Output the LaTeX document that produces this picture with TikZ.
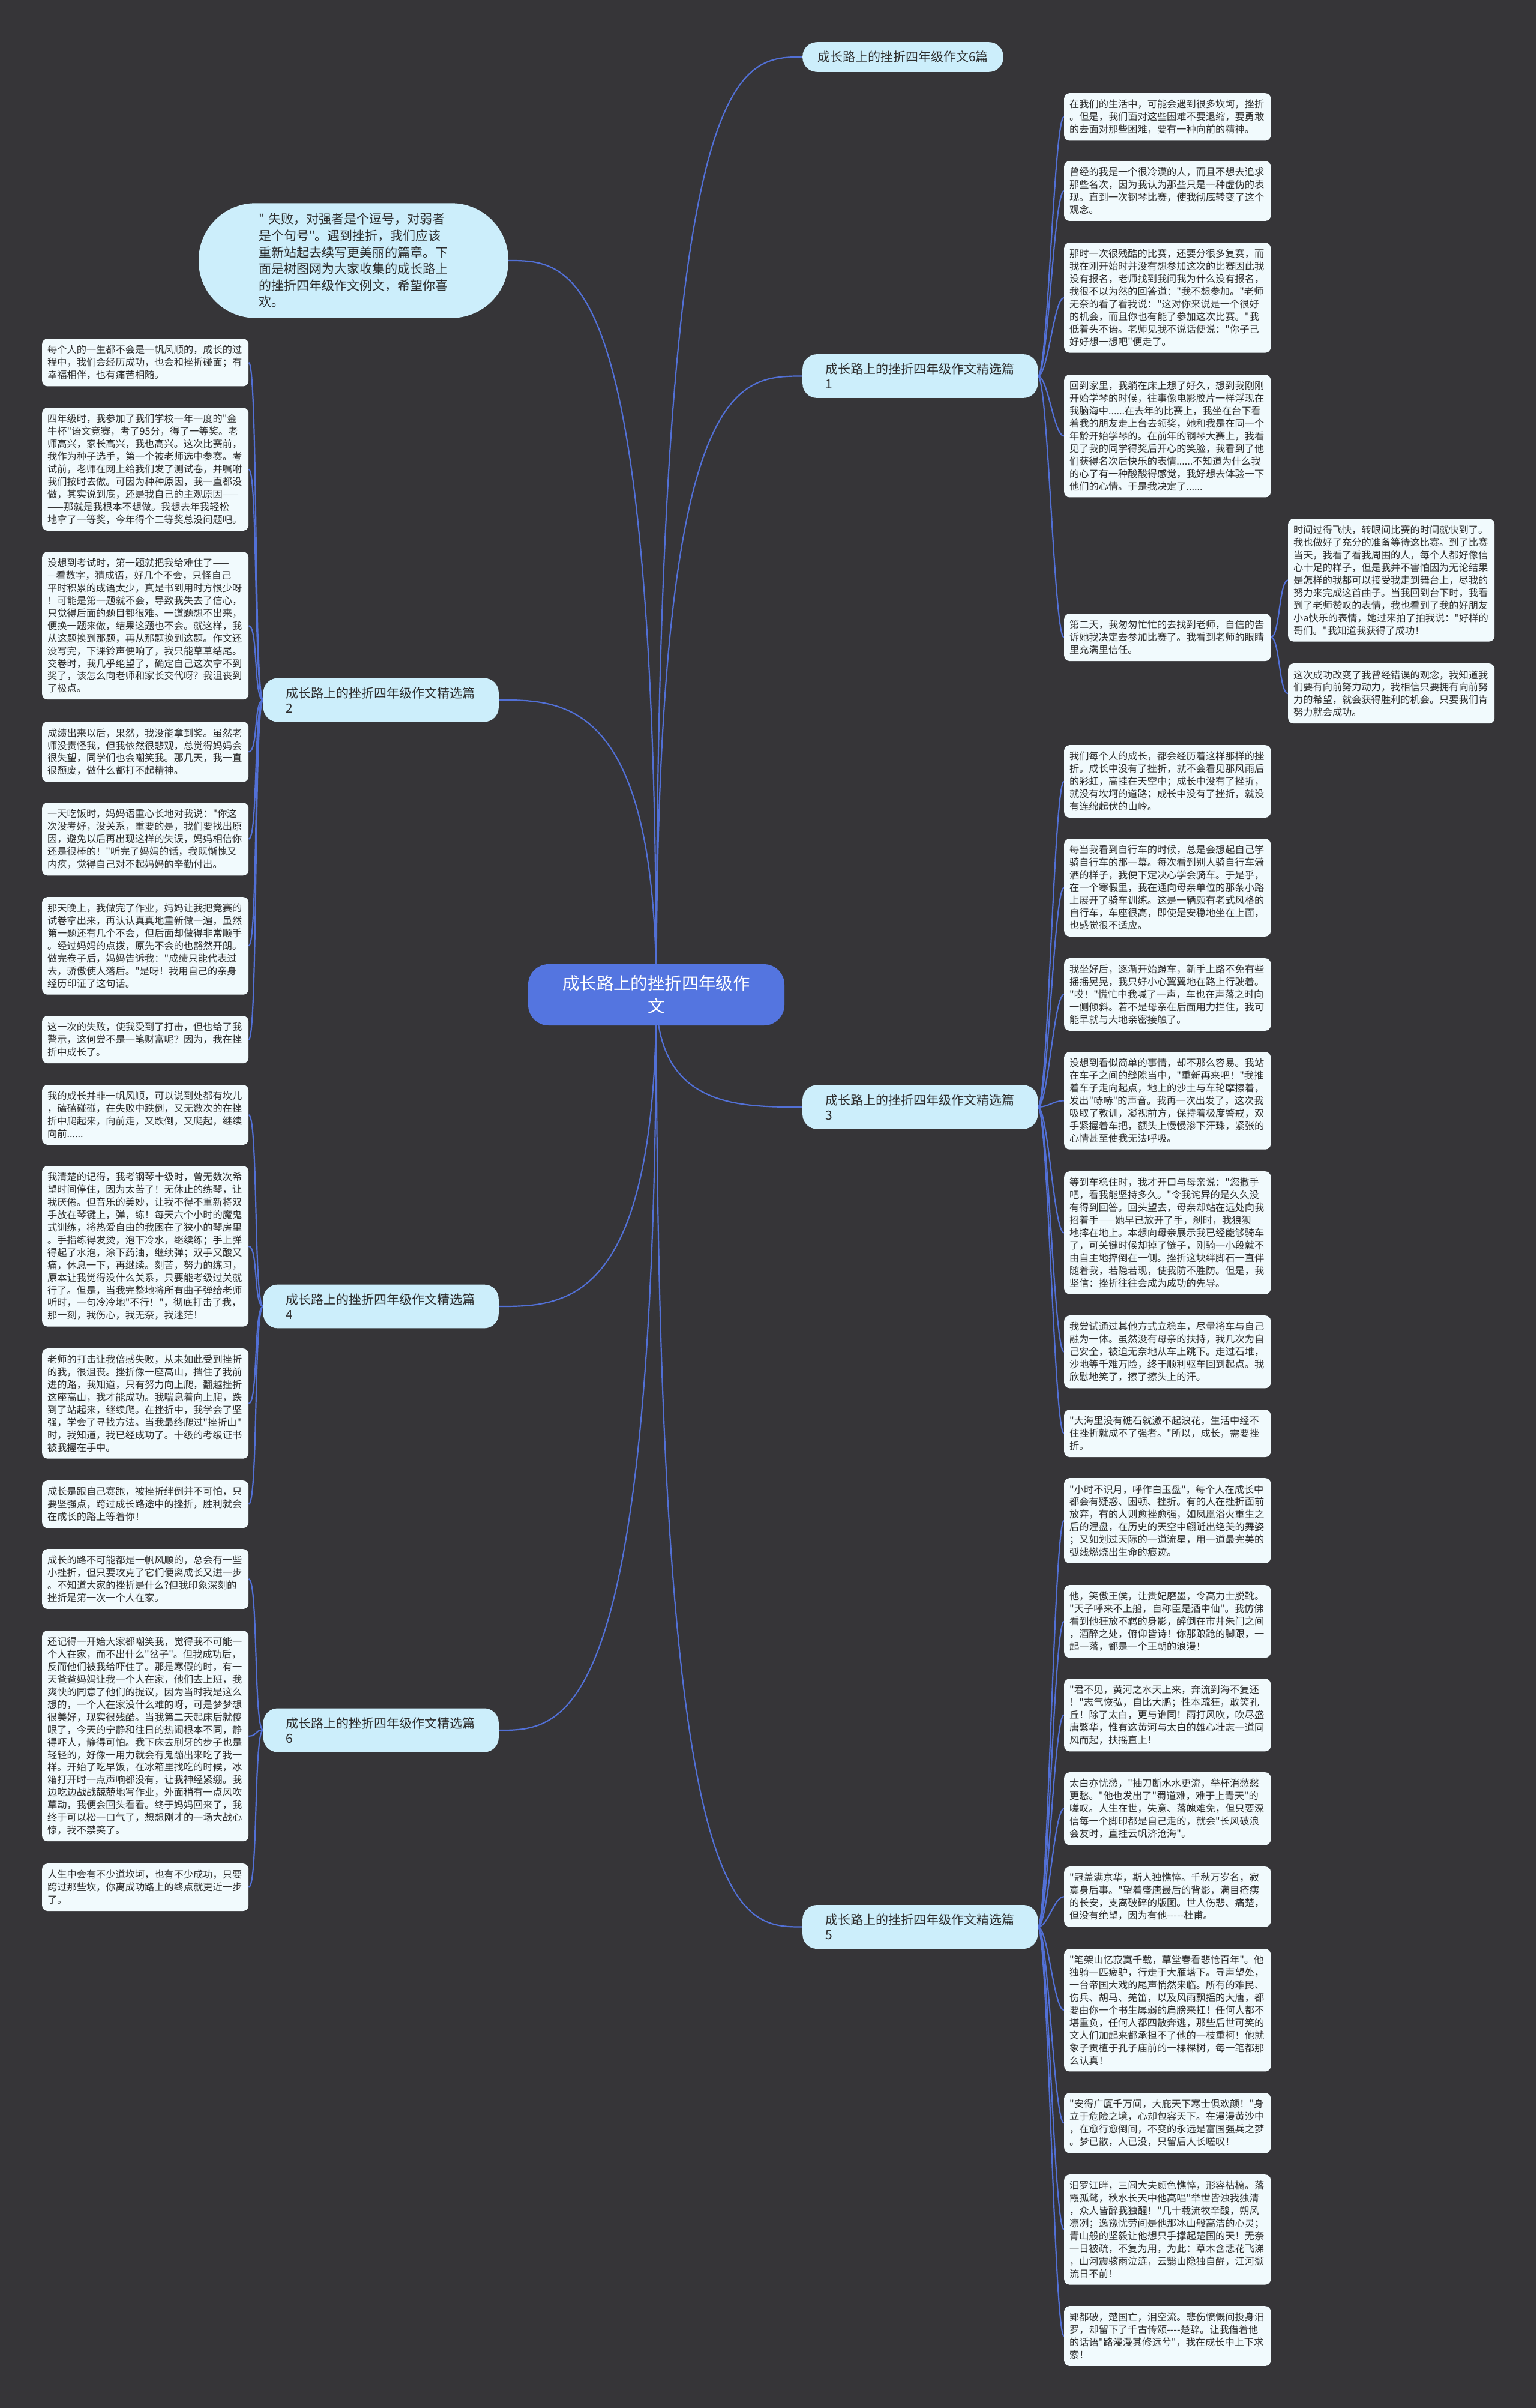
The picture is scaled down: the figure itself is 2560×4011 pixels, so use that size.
\documentclass[tikz,border=0pt]{standalone}
\usepackage{fontspec}
\newfontfamily\cjkfont{Noto Sans CJK SC}
\usetikzlibrary{calc}

\definecolor{pagebg}{RGB}{54,53,56}
\definecolor{linkblue}{RGB}{82,112,214}
\definecolor{rootbg}{RGB}{84,117,224}
\definecolor{branchbg}{RGB}{204,238,251}
\definecolor{leafbg}{RGB}{241,250,253}
\definecolor{leafink}{RGB}{45,45,45}

\pgfdeclarelayer{back}
\pgfdeclarelayer{lines}
\pgfsetlayers{back,lines,main}

\tikzset{
  root/.style={fill=rootbg, text=white, rounded corners=34pt, align=center,
    text width=320pt, minimum width=427pt, minimum height=102pt,
    font={\cjkfont\fontsize{28.4}{38}\selectfont}},
  intro/.style={fill=branchbg, text=leafink, rounded corners=95pt, align=left,
    text width=316pt, inner xsep=100pt, inner ysep=17pt,
    font={\cjkfont\fontsize{21}{27.6}\selectfont}},
  branch/.style={fill=branchbg, text=leafink, rounded corners=24pt, align=left,
    text width=316pt, inner xsep=38pt, inner ysep=15pt,
    font={\cjkfont\fontsize{21}{25}\selectfont}},
  leaf/.style={anchor=north west, fill=leafbg, rounded corners=9pt, align=left,
    text width=326pt, inner xsep=9pt, inner ysep=11pt, text=leafink,
    font={\cjkfont\fontsize{16.2}{20.9}\selectfont}},
  link/.style={draw=linkblue, line width=2.2pt}
}

\begin{document}
\begin{tikzpicture}[x=1pt, y=-1pt]
    % page
    \begin{pgfonlayer}{back}
        \fill[pagebg] (0,0) rectangle (2560,4011);
    \end{pgfonlayer}
    \useasboundingbox (0,0) rectangle (2560,4011);

    % centre, intro and branches
    \node[root] (root) at (1093.5,1657) {成长路上的挫折四年级作\\文};
    \node[intro] (intro) at (589,434) {" 失败，对强者是个逗号，对弱者\\是个句号"。遇到挫折，我们应该\\重新站起去续写更美丽的篇章。下\\面是树图网为大家收集的成长路上\\的挫折四年级作文例文，希望你喜\\欢。};
    \node[branch, text width=, inner xsep=25pt, anchor=west] (b0) at (1337,95) {成长路上的挫折四年级作文6篇};
    \node[branch, anchor=west] (b1) at (1337,626.5) {成长路上的挫折四年级作文精选篇\\1};
    \node[branch, anchor=east] (b2) at (831,1166) {成长路上的挫折四年级作文精选篇\\2};
    \node[branch, anchor=west] (b3) at (1337,1844) {成长路上的挫折四年级作文精选篇\\3};
    \node[branch, anchor=east] (b4) at (831,2176) {成长路上的挫折四年级作文精选篇\\4};
    \node[branch, anchor=west] (b5) at (1337,3209.5) {成长路上的挫折四年级作文精选篇\\5};
    \node[branch, anchor=east] (b6) at (831,2882) {成长路上的挫折四年级作文精选篇\\6};

    % branch 1
    \node[leaf] (l1a) at (1773,155) {在我们的生活中，可能会遇到很多坎坷，挫折\\。但是，我们面对这些困难不要退缩，要勇敢\\的去面对那些困难，要有一种向前的精神。};
    \node[leaf] (l1b) at (1773,268) {曾经的我是一个很冷漠的人，而且不想去追求\\那些名次，因为我认为那些只是一种虚伪的表\\现。直到一次钢琴比赛，使我彻底转变了这个\\观念。};
    \node[leaf] (l1c) at (1773,404) {那时一次很残酷的比赛，还要分很多复赛，而\\我在刚开始时并没有想参加这次的比赛因此我\\没有报名，老师找到我问我为什么没有报名，\\我很不以为然的回答道："我不想参加。"老师\\无奈的看了看我说："这对你来说是一个很好\\的机会，而且你也有能了参加这次比赛。"我\\低着头不语。老师见我不说话便说："你子己\\好好想一想吧"便走了。};
    \node[leaf] (l1d) at (1773,624) {回到家里，我躺在床上想了好久，想到我刚刚\\开始学琴的时候，往事像电影胶片一样浮现在\\我脑海中......在去年的比赛上，我坐在台下看\\着我的朋友走上台去领奖，她和我是在同一个\\年龄开始学琴的。在前年的钢琴大赛上，我看\\见了我的同学得奖后开心的笑脸，我看到了他\\们获得名次后快乐的表情......不知道为什么我\\的心了有一种酸酸得感觉，我好想去体验一下\\他们的心情。于是我决定了......};
    \node[leaf] (l1e) at (1773,1022) {第二天，我匆匆忙忙的去找到老师，自信的告\\诉她我决定去参加比赛了。我看到老师的眼睛\\里充满里信任。};
    \node[leaf] (f1) at (2146,864) {时间过得飞快，转眼间比赛的时间就快到了。\\我也做好了充分的准备等待这比赛。到了比赛\\当天，我看了看我周围的人，每个人都好像信\\心十足的样子，但是我并不害怕因为无论结果\\是怎样的我都可以接受我走到舞台上，尽我的\\努力来完成这首曲子。当我回到台下时，我看\\到了老师赞叹的表情，我也看到了我的好朋友\\小a快乐的表情，她过来拍了拍我说："好样的\\哥们。"我知道我获得了成功！};
    \node[leaf] (f2) at (2146,1105) {这次成功改变了我曾经错误的观念，我知道我\\们要有向前努力动力，我相信只要拥有向前努\\力的希望，就会获得胜利的机会。只要我们肯\\努力就会成功。};

    % branch 3
    \node[leaf] (l3a) at (1773,1241) {我们每个人的成长，都会经历着这样那样的挫\\折。成长中没有了挫折，就不会看见那风雨后\\的彩虹，高挂在天空中；成长中没有了挫折，\\就没有坎坷的道路；成长中没有了挫折，就没\\有连绵起伏的山岭。};
    \node[leaf] (l3b) at (1773,1397) {每当我看到自行车的时候，总是会想起自己学\\骑自行车的那一幕。每次看到别人骑自行车潇\\洒的样子，我便下定决心学会骑车。于是乎，\\在一个寒假里，我在通向母亲单位的那条小路\\上展开了骑车训练。这是一辆颇有老式风格的\\自行车，车座很高，即使是安稳地坐在上面，\\也感觉很不适应。};
    \node[leaf] (l3c) at (1773,1596) {我坐好后，逐渐开始蹬车，新手上路不免有些\\摇摇晃晃，我只好小心翼翼地在路上行驶着。\\"哎！"慌忙中我喊了一声，车也在声落之时向\\一侧倾斜。若不是母亲在后面用力拦住，我可\\能早就与大地亲密接触了。};
    \node[leaf] (l3d) at (1773,1752) {没想到看似简单的事情，却不那么容易。我站\\在车子之间的缝隙当中，"重新再来吧！"我推\\着车子走向起点，地上的沙土与车轮摩擦着，\\发出"哧哧"的声音。我再一次出发了，这次我\\吸取了教训，凝视前方，保持着极度警戒，双\\手紧握着车把，额头上慢慢渗下汗珠，紧张的\\心情甚至使我无法呼吸。};
    \node[leaf] (l3e) at (1773,1951) {等到车稳住时，我才开口与母亲说："您撒手\\吧，看我能坚持多久。"令我诧异的是久久没\\有得到回答。回头望去，母亲却站在远处向我\\招着手——她早已放开了手，刹时，我狼狈\\地摔在地上。本想向母亲展示我已经能够骑车\\了，可关键时候却掉了链子，刚骑一小段就不\\由自主地摔倒在一侧。挫折这块绊脚石一直伴\\随着我，若隐若现，使我防不胜防。但是，我\\坚信：挫折往往会成为成功的先导。};
    \node[leaf] (l3f) at (1773,2191) {我尝试通过其他方式立稳车，尽量将车与自己\\融为一体。虽然没有母亲的扶持，我几次为自\\己安全，被迫无奈地从车上跳下。走过石堆，\\沙地等千难万险，终于顺利驱车回到起点。我\\欣慰地笑了，擦了擦头上的汗。};
    \node[leaf] (l3g) at (1773,2348) {"大海里没有礁石就激不起浪花，生活中经不\\住挫折就成不了强者。"所以，成长，需要挫\\折。};

    % branch 5
    \node[leaf] (l5a) at (1773,2462) {"小时不识月，呼作白玉盘"，每个人在成长中\\都会有疑惑、困顿、挫折。有的人在挫折面前\\放弃，有的人则愈挫愈强，如凤凰浴火重生之\\后的涅盘，在历史的天空中翩跹出绝美的舞姿\\；又如划过天际的一道流星，用一道最完美的\\弧线燃烧出生命的痕迹。};
    \node[leaf] (l5b) at (1773,2640) {他，笑傲王侯，让贵妃磨墨，令高力士脱靴。\\"天子呼来不上船，自称臣是酒中仙"。我仿佛\\看到他狂放不羁的身影，醉倒在市井朱门之间\\，酒醉之处，俯仰皆诗！你那踉跄的脚跟，一\\起一落，都是一个王朝的浪漫！};
    \node[leaf] (l5c) at (1773,2796) {"君不见，黄河之水天上来，奔流到海不复还\\！"志气恢弘，自比大鹏；性本疏狂，敢笑孔\\丘！除了太白，更与谁同！雨打风吹，吹尽盛\\唐繁华，惟有这黄河与太白的雄心壮志一道同\\风而起，扶摇直上！};
    \node[leaf] (l5d) at (1773,2952) {太白亦忧愁，"抽刀断水水更流，举杯消愁愁\\更愁。"他也发出了"蜀道难，难于上青天"的\\嗟叹。人生在世，失意、落魄难免，但只要深\\信每一个脚印都是自己走的，就会"长风破浪\\会友时，直挂云帆济沧海"。};
    \node[leaf] (l5e) at (1773,3109) {"冠盖满京华，斯人独憔悴。千秋万岁名，寂\\寞身后事。"望着盛唐最后的背影，满目疮痍\\的长安，支离破碎的版图。世人伤悲、痛楚，\\但没有绝望，因为有他-----杜甫。};
    \node[leaf] (l5f) at (1773,3246) {"笔架山忆寂寞千载，草堂春看悲怆百年"。他\\独骑一匹疲驴，行走于大雁塔下。寻声望处，\\一台帝国大戏的尾声悄然来临。所有的难民、\\伤兵、胡马、羌笛，以及风雨飘摇的大唐，都\\要由你一个书生孱弱的肩膀来扛！任何人都不\\堪重负，任何人都四散奔逃，那些后世可笑的\\文人们加起来都承担不了他的一枝重柯！他就\\象子贡植于孔子庙前的一棵棵树，每一笔都那\\么认真！};
    \node[leaf] (l5g) at (1773,3486) {"安得广厦千万间，大庇天下寒士俱欢颜！"身\\立于危险之境，心却包容天下。在漫漫黄沙中\\，在愈行愈倒间，不变的永远是富国强兵之梦\\。梦已散，人已没，只留后人长嗟叹！};
    \node[leaf] (l5h) at (1773,3622) {汨罗江畔，三闾大夫颜色憔悴，形容枯槁。落\\霞孤鹜，秋水长天中他高唱"举世皆浊我独清\\，众人皆醉我独醒！"几十载流牧辛酸，朔风\\凛冽；逸豫忧劳间是他那冰山般高洁的心灵；\\青山般的坚毅让他想只手撑起楚国的天！无奈\\一日被疏，不复为用，为此：草木含悲花飞涕\\，山河震骇雨泣涟，云翳山隐独自醒，江河颓\\流日不前！};
    \node[leaf] (l5i) at (1773,3841) {郢都破，楚国亡，泪空流。悲伤愤慨间投身汨\\罗，却留下了千古传颂----楚辞。让我借着他\\的话语"路漫漫其修远兮"，我在成长中上下求\\索！};

    % branch 2
    \node[leaf] (l2a) at (70,564) {每个人的一生都不会是一帆风顺的，成长的过\\程中，我们会经历成功，也会和挫折碰面；有\\幸福相伴，也有痛苦相随。};
    \node[leaf] (l2b) at (70,679) {四年级时，我参加了我们学校一年一度的"金\\牛杯"语文竞赛，考了95分，得了一等奖。老\\师高兴，家长高兴，我也高兴。这次比赛前，\\我作为种子选手，第一个被老师选中参赛。考\\试前，老师在网上给我们发了测试卷，并嘱咐\\我们按时去做。可因为种种原因，我一直都没\\做，其实说到底，还是我自己的主观原因——\\——那就是我根本不想做。我想去年我轻松\\地拿了一等奖，今年得个二等奖总没问题吧。};
    \node[leaf] (l2c) at (70,919) {没想到考试时，第一题就把我给难住了——\\—看数字，猜成语，好几个不会，只怪自己\\平时积累的成语太少，真是书到用时方恨少呀\\！可能是第一题就不会，导致我失去了信心，\\只觉得后面的题目都很难。一道题想不出来，\\便换一题来做，结果这题也不会。就这样，我\\从这题换到那题，再从那题换到这题。作文还\\没写完，下课铃声便响了，我只能草草结尾。\\交卷时，我几乎绝望了，确定自己这次拿不到\\奖了，该怎么向老师和家长交代呀？我沮丧到\\了极点。};
    \node[leaf] (l2d) at (70,1202) {成绩出来以后，果然，我没能拿到奖。虽然老\\师没责怪我，但我依然很悲观，总觉得妈妈会\\很失望，同学们也会嘲笑我。那几天，我一直\\很颓废，做什么都打不起精神。};
    \node[leaf] (l2e) at (70,1337) {一天吃饭时，妈妈语重心长地对我说："你这\\次没考好，没关系，重要的是，我们要找出原\\因，避免以后再出现这样的失误，妈妈相信你\\还是很棒的！"听完了妈妈的话，我既惭愧又\\内疚，觉得自己对不起妈妈的辛勤付出。};
    \node[leaf] (l2f) at (70,1494) {那天晚上，我做完了作业，妈妈让我把竞赛的\\试卷拿出来，再认认真真地重新做一遍，虽然\\第一题还有几个不会，但后面却做得非常顺手\\。经过妈妈的点拨，原先不会的也豁然开朗。\\做完卷子后，妈妈告诉我："成绩只能代表过\\去，骄傲使人落后。"是呀！我用自己的亲身\\经历印证了这句话。};
    \node[leaf] (l2g) at (70,1692) {这一次的失败，使我受到了打击，但也给了我\\警示，这何尝不是一笔财富呢？因为，我在挫\\折中成长了。};

    % branch 4
    \node[leaf] (l4a) at (70,1807) {我的成长并非一帆风顺，可以说到处都有坎儿\\，磕磕碰碰，在失败中跌倒，又无数次的在挫\\折中爬起来，向前走，又跌倒，又爬起，继续\\向前......};
    \node[leaf] (l4b) at (70,1942) {我清楚的记得，我考钢琴十级时，曾无数次希\\望时间停住，因为太苦了！无休止的练琴，让\\我厌倦。但音乐的美妙，让我不得不重新将双\\手放在琴键上，弹，练！每天六个小时的魔鬼\\式训练，将热爱自由的我困在了狭小的琴房里\\。手指练得发烫，泡下冷水，继续练；手上弹\\得起了水泡，涂下药油，继续弹；双手又酸又\\痛，休息一下，再继续。刻苦，努力的练习，\\原本让我觉得没什么关系，只要能考级过关就\\行了。但是，当我完整地将所有曲子弹给老师\\听时，一句冷冷地"不行！"，彻底打击了我，\\那一刻，我伤心，我无奈，我迷茫！};
    \node[leaf] (l4c) at (70,2246) {老师的打击让我倍感失败，从未如此受到挫折\\的我，很沮丧。挫折像一座高山，挡住了我前\\进的路，我知道，只有努力向上爬，翻越挫折\\这座高山，我才能成功。我喘息着向上爬，跌\\到了站起来，继续爬。在挫折中，我学会了坚\\强，学会了寻找方法。当我最终爬过"挫折山"\\时，我知道，我已经成功了。十级的考级证书\\被我握在手中。};
    \node[leaf] (l4d) at (70,2466) {成长是跟自己赛跑，被挫折绊倒并不可怕，只\\要坚强点，跨过成长路途中的挫折，胜利就会\\在成长的路上等着你！};

    % branch 6
    \node[leaf] (l6a) at (70,2580) {成长的路不可能都是一帆风顺的，总会有一些\\小挫折，但只要攻克了它们便离成长又进一步\\。不知道大家的挫折是什么?但我印象深刻的\\挫折是第一次一个人在家。};
    \node[leaf] (l6b) at (70,2716) {还记得一开始大家都嘲笑我，觉得我不可能一\\个人在家，而不出什么"岔子"。但我成功后，\\反而他们被我给吓住了。那是寒假的时，有一\\天爸爸妈妈让我一个人在家，他们去上班，我\\爽快的同意了他们的提议，因为当时我是这么\\想的，一个人在家没什么难的呀，可是梦梦想\\很美好，现实很残酷。当我第二天起床后就傻\\眼了，今天的宁静和往日的热闹根本不同，静\\得吓人，静得可怕。我下床去刷牙的步子也是\\轻轻的，好像一用力就会有鬼蹦出来吃了我一\\样。开始了吃早饭，在冰箱里找吃的时候，冰\\箱打开时一点声响都没有，让我神经紧绷。我\\边吃边战战兢兢地写作业，外面稍有一点风吹\\草动，我便会回头看看。终于妈妈回来了，我\\终于可以松一口气了，想想刚才的一场大战心\\惊，我不禁笑了。};
    \node[leaf] (l6c) at (70,3104) {人生中会有不少道坎坷，也有不少成功，只要\\跨过那些坎，你离成功路上的终点就更近一步\\了。};

    % connectors
    \begin{pgfonlayer}{lines}
        \foreach \b in {b0,b1,b3,b5} {
            \draw[link] (root.center) .. controls (root.center |- \b.west)
                and ($(\b.west)+(-110,0)$) .. (\b.west);
        }
        \foreach \b in {intro,b2,b4,b6} {
            \draw[link] (root.center) .. controls (root.center |- \b.east)
                and ($(\b.east)+(110,0)$) .. (\b.east);
        }
        \foreach \l in {l1a,l1b,l1c,l1d,l1e} {
            \draw[link] (b1.east) .. controls +(17,0) and +(-17,0) .. (\l.west);
        }
        \foreach \l in {f1,f2} {
            \draw[link] (l1e.east) .. controls +(15,0) and +(-15,0) .. (\l.west);
        }
        \foreach \l in {l3a,l3b,l3c,l3d,l3e,l3f,l3g} {
            \draw[link] (b3.east) .. controls +(17,0) and +(-17,0) .. (\l.west);
        }
        \foreach \l in {l5a,l5b,l5c,l5d,l5e,l5f,l5g,l5h,l5i} {
            \draw[link] (b5.east) .. controls +(17,0) and +(-17,0) .. (\l.west);
        }
        \foreach \l in {l2a,l2b,l2c,l2d,l2e,l2f,l2g} {
            \draw[link] (b2.west) .. controls +(-16,0) and +(16,0) .. (\l.east);
        }
        \foreach \l in {l4a,l4b,l4c,l4d} {
            \draw[link] (b4.west) .. controls +(-16,0) and +(16,0) .. (\l.east);
        }
        \foreach \l in {l6a,l6b,l6c} {
            \draw[link] (b6.west) .. controls +(-16,0) and +(16,0) .. (\l.east);
        }
    \end{pgfonlayer}
\end{tikzpicture}
\end{document}
